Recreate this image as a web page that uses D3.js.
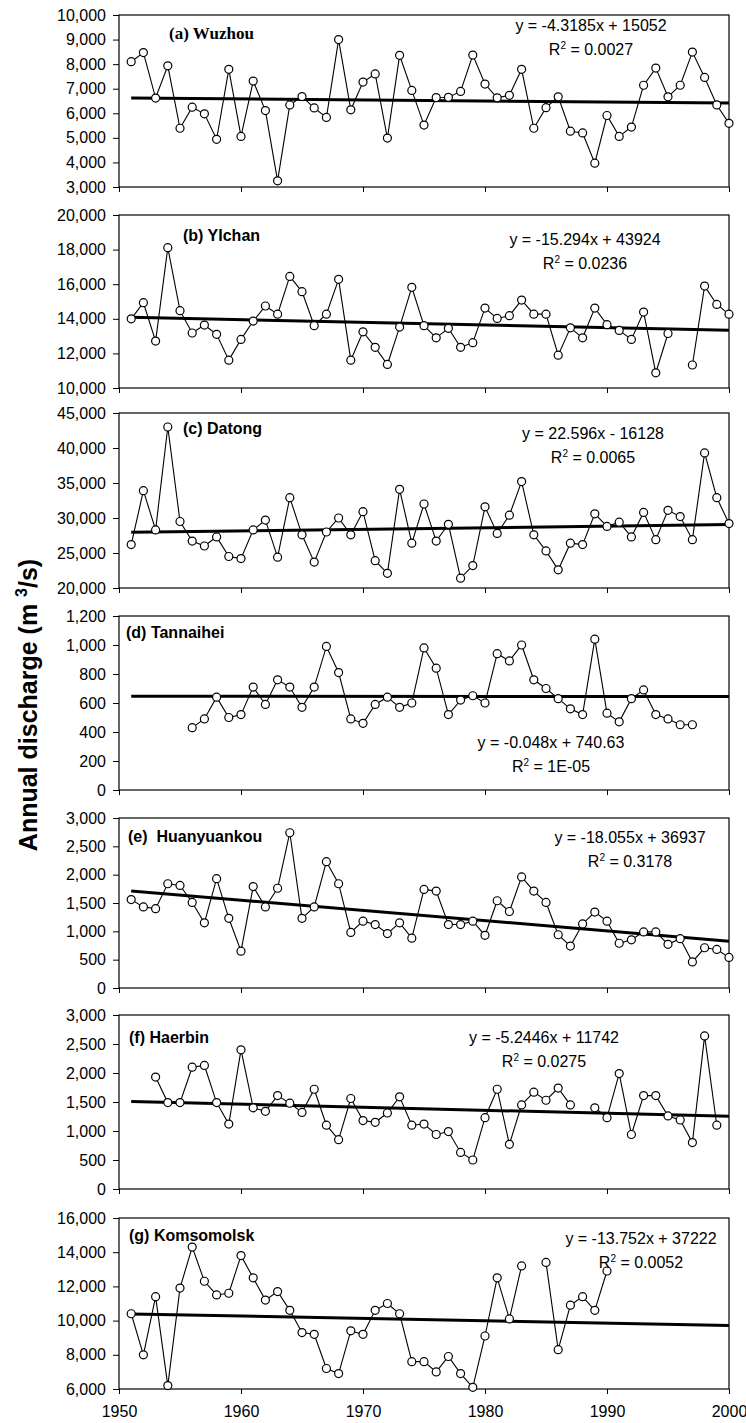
<!DOCTYPE html>
<html>
<head>
<meta charset="utf-8">
<script src="https://cdn.jsdelivr.net/npm/d3@7"></script>
<style>
  body { margin: 0; background: #fff; }
  svg { display: block; }
  .tick text { font-family: "Liberation Sans", Arial, sans-serif; font-size: 16px; fill: #000; }
</style>
</head>
<body>
<script>
// annual discharge, 1951-2000, null = no record

var years = d3.range(1951, 2001);

var wuzhou = [8100, 8470, 6620, 7930, 5390, 6250, 5980, 4940, 7790, 5060,
  7310, 6110, 3250, 6340, 6680, 6220, 5830, 9000, 6140, 7270,
  7600, 4990, 8360, 6930, 5520, 6640, 6650, 6890, 8370, 7190,
  6630, 6730, 7790, 5390, 6230, 6670, 5270, 5200, 3970, 5910,
  5060, 5440, 7140, 7840, 6670, 7140, 8490, 7460, 6340, 5590];

var yichan = [14000, 14930, 12710, 18110, 14470, 13180, 13640, 13100, 11610, 12810,
  13870, 14740, 14270, 16450, 15570, 13600, 14270, 16280, 11610, 13250,
  12350, 11360, 13520, 15820, 13600, 12900, 13450, 12350, 12620, 14620,
  14020, 14180, 15080, 14270, 14270, 11900, 13480, 12900, 14620, 13660,
  13330, 12810, 14390, 10880, 13150, null, 11330, 15890, 14830, 14270];

var datong = [26200, 33900, 28300, 43000, 29500, 26700, 26000, 27300, 24500, 24200,
  28300, 29700, 24400, 32900, 27600, 23700, 28000, 30000, 27600, 30900,
  23900, 22100, 34100, 26400, 32000, 26700, 29100, 21400, 23200, 31600,
  27800, 30400, 35200, 27600, 25300, 22600, 26400, 26200, 30600, 28800,
  29400, 27300, 30800, 26900, 31100, 30200, 26900, 39300, 32900, 29200];

var tannaihei = [null, null, null, null, null, 430, 490, 640, 500, 520,
  710, 590, 760, 710, 570, 710, 990, 810, 490, 460,
  590, 640, 570, 600, 980, 840, 520, 620, 650, 600,
  940, 890, 1000, 760, 700, 630, 560, 520, 1040, 530,
  470, 630, 690, 520, 490, 450, 450, null, null, null];

var huanyuankou = [1560, 1430, 1400, 1840, 1810, 1510, 1150, 1930, 1230, 650,
  1790, 1430, 1760, 2740, 1230, 1430, 2230, 1840, 980, 1180,
  1120, 960, 1150, 880, 1740, 1710, 1120, 1120, 1180, 930,
  1540, 1350, 1960, 1710, 1510, 940, 740, 1130, 1340, 1180,
  790, 850, 990, 990, 770, 870, 460, 710, 680, 540];

var haerbin = [null, null, 1930, 1490, 1490, 2100, 2130, 1490, 1120, 2400,
  1400, 1340, 1610, 1480, 1320, 1720, 1100, 850, 1560, 1180,
  1150, 1310, 1590, 1100, 1120, 940, 990, 630, 500, 1230,
  1720, 770, 1450, 1670, 1530, 1740, 1450, null, 1400, 1230,
  1990, 940, 1610, 1610, 1260, 1190, 800, 2640, 1100, null];

var komsomolsk = [10400, 8000, 11400, 6200, 11900, 14300, 12300, 11500, 11600, 13800,
  12500, 11200, 11700, 10600, 9300, 9200, 7200, 6900, 9400, 9200,
  10600, 11000, 10400, 7600, 7600, 7000, 7900, 6900, 6100, 9100,
  12500, 10100, 13200, null, 13400, 8300, 10900, 11400, 10600, 12900,
  null, null, null, null, null, null, null, null, null, null];

var series = [wuzhou, yichan, datong, tannaihei, huanyuankou, haerbin, komsomolsk];
var titles = ["(a) Wuzhou", "(b) YIchan", "(c) Datong", "(d) Tannaihei",
  "(e)  Huanyuankou", "(f) Haerbin", "(g) Komsomolsk"];
var slopes = [-4.3185, -15.294, 22.596, -0.048, -18.055, -5.2446, -13.752];
var intercepts = [15052, 43924, -16128, 740.63, 36937, 11742, 37222];
var equations = ["y = -4.3185x + 15052", "y = -15.294x + 43924", "y = 22.596x - 16128",
  "y = -0.048x + 740.63", "y = -18.055x + 36937", "y = -5.2446x + 11742", "y = -13.752x + 37222"];
var r2 = ["0.0027", "0.0236", "0.0065", "1E-05", "0.3178", "0.0275", "0.0052"];
var yMin = [3000, 10000, 20000, 0, 0, 0, 6000];
var yMax = [10000, 20000, 45000, 1200, 3000, 3000, 16000];
var yStep = [1000, 2000, 5000, 200, 500, 500, 2000];
var xTicks = [1950, 1960, 1970, 1980, 1990, 2000];

// layout
var tops = [15, 215, 413, 616, 818, 1015, 1218];
var bottoms = [187, 388, 588, 790, 988, 1189, 1389];
var titleX = [169, 183, 183, 126, 128, 129, 129];
var titleDy = [24, 26, 21, 22, 24, 28, 23];
var eqX = [591, 585, 593, 551, 630, 544, 641];
var eqY = [31, 245, 439, 748, 843, 1043, 1244];

var svg = d3.select("body").append("svg")
  .attr("width", 746)
  .attr("height", 1423);

var x = d3.scaleLinear().domain([1950, 2000]).range([119, 729]);

series.forEach(function(vals, i){
  var y = d3.scaleLinear().domain([yMin[i], yMax[i]]).range([bottoms[i], tops[i]]);
  var g = svg.append("g");

  g.append("rect")
    .attr("x", x(1950)).attr("y", tops[i])
    .attr("width", x(2000) - x(1950)).attr("height", bottoms[i] - tops[i])
    .style("fill", "none").style("stroke", "#000").style("stroke-width", 1.2);

  var yAxis = g.append("g")
    .attr("transform", "translate(" + x(1950) + ",0)")
    .call(d3.axisLeft(y)
      .tickValues(d3.range(yMin[i], yMax[i] + 1, yStep[i]))
      .tickSize(6).tickPadding(7)
      .tickFormat(d3.format(",")));
  yAxis.select(".domain").remove();

  var xAxis = g.append("g")
    .attr("transform", "translate(0," + bottoms[i] + ")")
    .call(d3.axisBottom(x)
      .tickValues(xTicks)
      .tickSize(5).tickPadding(12)
      .tickFormat(i == 6 ? d3.format("d") : function(){ return ""; }));
  xAxis.select(".domain").remove();

  // trend line
  g.append("line")
    .attr("x1", x(1951)).attr("y1", y(slopes[i] * 1951 + intercepts[i]))
    .attr("x2", x(2000)).attr("y2", y(slopes[i] * 2000 + intercepts[i]))
    .style("stroke", "#000").style("stroke-width", 3);

  var pts = years.map(function(yr, k){ return [yr, vals[k]]; });

  var line = d3.line()
    .defined(function(d){ return d[1] != null; })
    .x(function(d){ return x(d[0]); })
    .y(function(d){ return y(d[1]); });

  g.append("path")
    .attr("d", line(pts))
    .style("fill", "none").style("stroke", "#000").style("stroke-width", 1.1);

  g.selectAll("circle")
    .data(pts.filter(function(d){ return d[1] != null; }))
    .enter()
    .append("circle")
    .attr("cx", function(d){ return x(d[0]); })
    .attr("cy", function(d){ return y(d[1]); })
    .attr("r", 4)
    .style("fill", "#fff").style("stroke", "#000").style("stroke-width", 1.2);

  g.append("text")
    .attr("x", titleX[i]).attr("y", tops[i] + titleDy[i])
    .style("font-family", i == 0 ? "'Liberation Serif', 'Times New Roman', serif" : "'Liberation Sans', Arial, sans-serif")
    .style("font-weight", "bold")
    .style("font-size", i == 0 ? "17px" : "16px")
    .style("white-space", "pre")
    .text(titles[i]);

  g.append("text")
    .attr("x", eqX[i]).attr("y", eqY[i])
    .attr("text-anchor", "middle")
    .style("font-family", "'Liberation Sans', Arial, sans-serif")
    .style("font-size", "16px")
    .text(equations[i]);

  var rt = g.append("text")
    .attr("x", eqX[i]).attr("y", eqY[i] + 24)
    .attr("text-anchor", "middle")
    .style("font-family", "'Liberation Sans', Arial, sans-serif")
    .style("font-size", "16px");
  rt.append("tspan").text("R");
  rt.append("tspan").attr("dy", -6).style("font-size", "10px").text("2");
  rt.append("tspan").attr("dy", 6).text(" = " + r2[i]);
});

// y axis title
var yt = svg.append("text")
  .attr("transform", "translate(37,705) rotate(-90)")
  .attr("text-anchor", "middle")
  .style("font-family", "'Liberation Sans', Arial, sans-serif")
  .style("font-weight", "bold")
  .style("font-size", "25px");
yt.append("tspan").text("Annual discharge (m ");
yt.append("tspan").attr("dy", -10).style("font-size", "16px").text("3");
yt.append("tspan").attr("dy", 10).text("/s)");
</script>
</body>
</html>
